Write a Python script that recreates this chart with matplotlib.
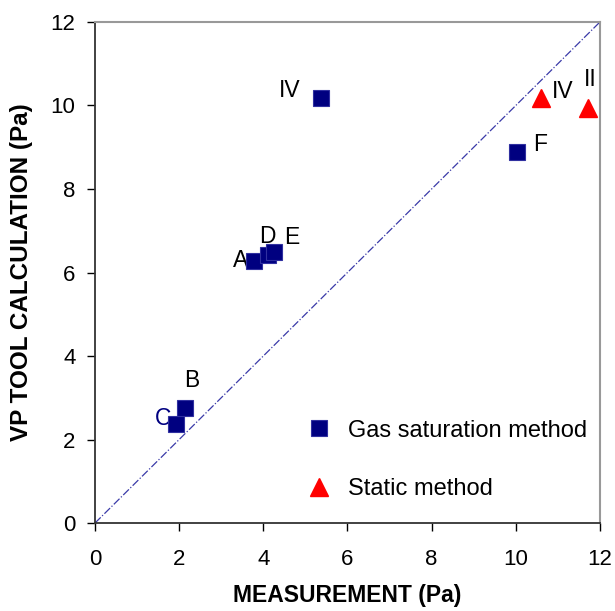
import matplotlib
matplotlib.use("Agg")
import matplotlib.pyplot as plt

plt.rcParams['font.family'] = ['Liberation Sans', 'DejaVu Sans']

# gas saturation method points
gas_labels = ['C', 'B', 'A', 'D', 'E', 'IV', 'F']
gas_meas = [1.93, 2.14, 3.79, 4.10, 4.26, 5.38, 10.02]
gas_calc = [2.37, 2.75, 6.27, 6.41, 6.48, 10.19, 8.88]

# static method points
static_labels = ['IV', 'II']
static_meas = [10.60, 11.71]
static_calc = [10.19, 9.95]

# label positions (data units)
gas_text_xy = [(1.62, 2.50), (2.29, 3.42), (3.45, 6.29), (4.10, 6.87),
               (4.67, 6.84), (4.62, 10.36), (10.57, 9.07)]
static_text_xy = [(11.12, 10.33), (11.76, 10.62)]

fig = plt.figure(figsize=(6.15, 6.11), dpi=100)
ax = fig.add_axes([0.1545, 0.144, 0.821, 0.820])

# 1:1 line
ax.plot([0, 12], [0, 12], color='#3a3aa8', linestyle='-.', linewidth=0.9, zorder=1)

ax.plot(gas_meas, gas_calc, linestyle='none', marker='s', markersize=12,
        markerfacecolor='#000080', markeredgecolor='#3030a0', markeredgewidth=0.8,
        label='Gas saturation method', zorder=3)
ax.plot(static_meas, static_calc, linestyle='none', marker='^', markersize=13,
        markerfacecolor='#ff0000', markeredgecolor='#ff0000',
        label='Static method', zorder=3)

for lab, (tx, ty) in zip(gas_labels, gas_text_xy):
    col = '#000080' if lab == 'C' else 'black'
    ax.text(tx, ty, lab, fontsize=16.5, ha='center', va='center', color=col, zorder=2)
for lab, (tx, ty) in zip(static_labels, static_text_xy):
    ax.text(tx, ty, lab, fontsize=16.5, ha='center', va='center', zorder=2)

ax.set_xlim(0, 12)
ax.set_ylim(0, 12)
ax.set_xticks(range(0, 13, 2))
ax.set_yticks(range(0, 13, 2))
ax.tick_params(direction='out', length=6, width=1, labelsize=16)
ax.tick_params(axis='x', pad=13)
ax.tick_params(axis='y', pad=8)
ax.set_xlabel('MEASUREMENT (Pa)', fontsize=16.5, fontweight='bold', labelpad=10)
ax.set_ylabel('VP TOOL CALCULATION (Pa)', fontsize=17.5, fontweight='bold', labelpad=13)

for side in ['left', 'bottom']:
    ax.spines[side].set_color('#333333')
    ax.spines[side].set_linewidth(1.3)
for side in ['top', 'right']:
    ax.spines[side].set_color('#999999')
    ax.spines[side].set_linewidth(1.5)

ax.legend(loc='center left', bbox_to_anchor=(0.374, 0.126), frameon=False,
          fontsize=17, labelspacing=1.55, handletextpad=0.6, handlelength=1.2)

fig.savefig('out.png', dpi=100)
